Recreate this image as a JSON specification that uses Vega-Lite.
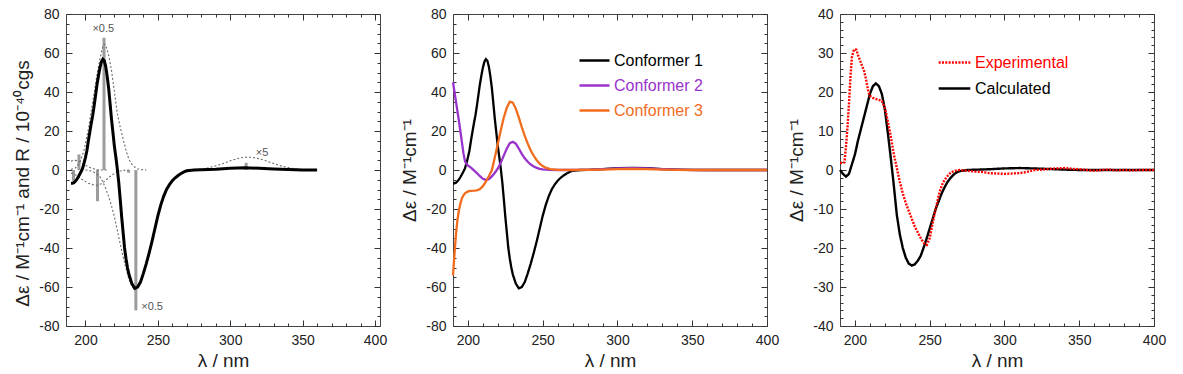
{
  "$schema": "https://vega.github.io/schema/vega-lite/v6.json",
  "background": "white",
  "padding": {"left": 13, "top": 6, "right": 5, "bottom": 5},
  "spacing": 73,
  "bounds": "flush",
  "resolve": {"scale": {"color": "independent", "strokeDash": "independent"}, "legend": {"color": "independent", "strokeDash": "independent"}},
  "config": {
    "view": {"stroke": "#444", "strokeWidth": 1},
    "font": "Liberation Sans",
    "axis": {"labelFont": "Liberation Sans", "titleFont": "Liberation Sans", "labelFontSize": 14, "titleFontSize": 19, "titleFontWeight": "normal", "labelColor": "#222", "titleColor": "#222", "domain": false, "tickColor": "#333", "tickWidth": 1, "grid": false, "labelFlush": false, "labelOverlap": false},
    "legend": {"labelFont": "Liberation Sans"},
    "text": {"font": "Liberation Sans"}
  },
  "datasets": {
    "conf": [
      {"s":"Conformer 1","x":190,"y":-6.8},{"s":"Conformer 1","x":191,"y":-6.8},{"s":"Conformer 1","x":192,"y":-6.5},{"s":"Conformer 1","x":193,"y":-5.8},{"s":"Conformer 1","x":194,"y":-4.8},{"s":"Conformer 1","x":195,"y":-3.6},{"s":"Conformer 1","x":196,"y":-2.2},{"s":"Conformer 1","x":197,"y":-0.8},{"s":"Conformer 1","x":198,"y":0.8},{"s":"Conformer 1","x":199,"y":3.5},{"s":"Conformer 1","x":200,"y":6.5},{"s":"Conformer 1","x":201,"y":10},{"s":"Conformer 1","x":202,"y":15},{"s":"Conformer 1","x":203,"y":19.5},{"s":"Conformer 1","x":204,"y":24},{"s":"Conformer 1","x":205,"y":28},{"s":"Conformer 1","x":206,"y":33},{"s":"Conformer 1","x":207,"y":38.5},{"s":"Conformer 1","x":208,"y":44},{"s":"Conformer 1","x":209,"y":48.5},{"s":"Conformer 1","x":210,"y":52.5},{"s":"Conformer 1","x":211,"y":55.5},{"s":"Conformer 1","x":212,"y":56.8},{"s":"Conformer 1","x":213,"y":56},{"s":"Conformer 1","x":214,"y":53},{"s":"Conformer 1","x":215,"y":48},{"s":"Conformer 1","x":216,"y":42},{"s":"Conformer 1","x":217,"y":34},{"s":"Conformer 1","x":218,"y":26},{"s":"Conformer 1","x":219,"y":19},{"s":"Conformer 1","x":220,"y":12},{"s":"Conformer 1","x":221,"y":6.5},{"s":"Conformer 1","x":222,"y":0.5},{"s":"Conformer 1","x":223,"y":-6.5},{"s":"Conformer 1","x":224,"y":-15},{"s":"Conformer 1","x":225,"y":-24},{"s":"Conformer 1","x":226,"y":-32},{"s":"Conformer 1","x":227,"y":-40},{"s":"Conformer 1","x":228,"y":-45.5},{"s":"Conformer 1","x":229,"y":-50},{"s":"Conformer 1","x":230,"y":-53.5},{"s":"Conformer 1","x":232,"y":-58.2},{"s":"Conformer 1","x":234,"y":-60.7},{"s":"Conformer 1","x":236,"y":-60},{"s":"Conformer 1","x":238,"y":-57.5},{"s":"Conformer 1","x":240,"y":-53},{"s":"Conformer 1","x":242,"y":-48},{"s":"Conformer 1","x":244,"y":-42.5},{"s":"Conformer 1","x":246,"y":-36.5},{"s":"Conformer 1","x":248,"y":-30},{"s":"Conformer 1","x":250,"y":-23.5},{"s":"Conformer 1","x":252,"y":-18},{"s":"Conformer 1","x":254,"y":-13.5},{"s":"Conformer 1","x":256,"y":-10},{"s":"Conformer 1","x":258,"y":-7.5},{"s":"Conformer 1","x":260,"y":-5.5},{"s":"Conformer 1","x":262,"y":-4},{"s":"Conformer 1","x":264,"y":-2.8},{"s":"Conformer 1","x":266,"y":-1.8},{"s":"Conformer 1","x":268,"y":-1},{"s":"Conformer 1","x":270,"y":-0.4},{"s":"Conformer 1","x":275,"y":0},{"s":"Conformer 1","x":280,"y":0.1},{"s":"Conformer 1","x":290,"y":0.4},{"s":"Conformer 1","x":300,"y":0.9},{"s":"Conformer 1","x":310,"y":1.1},{"s":"Conformer 1","x":320,"y":0.9},{"s":"Conformer 1","x":330,"y":0.5},{"s":"Conformer 1","x":340,"y":0.2},{"s":"Conformer 1","x":350,"y":0.05},{"s":"Conformer 1","x":360,"y":0},{"s":"Conformer 1","x":380,"y":0},{"s":"Conformer 1","x":400,"y":0},
      {"s":"Conformer 2","x":190,"y":45},{"s":"Conformer 2","x":191,"y":40},{"s":"Conformer 2","x":192,"y":35},{"s":"Conformer 2","x":193,"y":30},{"s":"Conformer 2","x":194,"y":25},{"s":"Conformer 2","x":195,"y":19.5},{"s":"Conformer 2","x":196,"y":14},{"s":"Conformer 2","x":197,"y":8.5},{"s":"Conformer 2","x":198,"y":4.5},{"s":"Conformer 2","x":199,"y":3},{"s":"Conformer 2","x":200,"y":2.3},{"s":"Conformer 2","x":202,"y":1.2},{"s":"Conformer 2","x":204,"y":-0.2},{"s":"Conformer 2","x":206,"y":-1.6},{"s":"Conformer 2","x":208,"y":-3.2},{"s":"Conformer 2","x":210,"y":-4.5},{"s":"Conformer 2","x":212,"y":-5.1},{"s":"Conformer 2","x":214,"y":-4.7},{"s":"Conformer 2","x":216,"y":-3.3},{"s":"Conformer 2","x":218,"y":-1.4},{"s":"Conformer 2","x":220,"y":0.8},{"s":"Conformer 2","x":222,"y":3.8},{"s":"Conformer 2","x":224,"y":7.5},{"s":"Conformer 2","x":226,"y":11},{"s":"Conformer 2","x":228,"y":13.8},{"s":"Conformer 2","x":230,"y":14.5},{"s":"Conformer 2","x":232,"y":13.5},{"s":"Conformer 2","x":234,"y":11},{"s":"Conformer 2","x":236,"y":8.3},{"s":"Conformer 2","x":238,"y":6},{"s":"Conformer 2","x":240,"y":4.2},{"s":"Conformer 2","x":242,"y":2.8},{"s":"Conformer 2","x":244,"y":1.8},{"s":"Conformer 2","x":246,"y":1.1},{"s":"Conformer 2","x":248,"y":0.6},{"s":"Conformer 2","x":250,"y":0.3},{"s":"Conformer 2","x":255,"y":0.05},{"s":"Conformer 2","x":260,"y":0},{"s":"Conformer 2","x":280,"y":0.1},{"s":"Conformer 2","x":290,"y":0.4},{"s":"Conformer 2","x":300,"y":0.8},{"s":"Conformer 2","x":310,"y":1},{"s":"Conformer 2","x":320,"y":0.8},{"s":"Conformer 2","x":330,"y":0.4},{"s":"Conformer 2","x":340,"y":0.15},{"s":"Conformer 2","x":350,"y":0},{"s":"Conformer 2","x":380,"y":0},{"s":"Conformer 2","x":400,"y":0},
      {"s":"Conformer 3","x":190,"y":-54},{"s":"Conformer 3","x":191,"y":-43},{"s":"Conformer 3","x":192,"y":-33},{"s":"Conformer 3","x":193,"y":-25.5},{"s":"Conformer 3","x":194,"y":-20.5},{"s":"Conformer 3","x":195,"y":-17},{"s":"Conformer 3","x":196,"y":-14.5},{"s":"Conformer 3","x":197,"y":-13},{"s":"Conformer 3","x":198,"y":-12},{"s":"Conformer 3","x":200,"y":-11},{"s":"Conformer 3","x":202,"y":-10.7},{"s":"Conformer 3","x":204,"y":-10.6},{"s":"Conformer 3","x":206,"y":-10.4},{"s":"Conformer 3","x":208,"y":-9.8},{"s":"Conformer 3","x":210,"y":-8.3},{"s":"Conformer 3","x":212,"y":-6},{"s":"Conformer 3","x":214,"y":-3.2},{"s":"Conformer 3","x":216,"y":0},{"s":"Conformer 3","x":218,"y":6.5},{"s":"Conformer 3","x":220,"y":13.5},{"s":"Conformer 3","x":222,"y":20.5},{"s":"Conformer 3","x":224,"y":27},{"s":"Conformer 3","x":226,"y":32},{"s":"Conformer 3","x":228,"y":35},{"s":"Conformer 3","x":230,"y":34.5},{"s":"Conformer 3","x":232,"y":31.5},{"s":"Conformer 3","x":234,"y":27},{"s":"Conformer 3","x":236,"y":22},{"s":"Conformer 3","x":238,"y":17.5},{"s":"Conformer 3","x":240,"y":13.5},{"s":"Conformer 3","x":242,"y":10},{"s":"Conformer 3","x":244,"y":7.3},{"s":"Conformer 3","x":246,"y":5},{"s":"Conformer 3","x":248,"y":3.2},{"s":"Conformer 3","x":250,"y":2},{"s":"Conformer 3","x":252,"y":1.2},{"s":"Conformer 3","x":255,"y":0.5},{"s":"Conformer 3","x":260,"y":0.1},{"s":"Conformer 3","x":270,"y":0},{"s":"Conformer 3","x":290,"y":0.2},{"s":"Conformer 3","x":300,"y":0.4},{"s":"Conformer 3","x":310,"y":0.6},{"s":"Conformer 3","x":320,"y":0.4},{"s":"Conformer 3","x":330,"y":0.2},{"s":"Conformer 3","x":340,"y":0.05},{"s":"Conformer 3","x":350,"y":0},{"s":"Conformer 3","x":380,"y":0},{"s":"Conformer 3","x":400,"y":0}
    ],
    "gauss": [
      {"g":"g1","x":190,"y":0.3},{"g":"g1","x":193,"y":1},{"g":"g1","x":196,"y":3.8},{"g":"g1","x":199,"y":10},{"g":"g1","x":202,"y":21},{"g":"g1","x":205,"y":35},{"g":"g1","x":208,"y":49},{"g":"g1","x":210,"y":57},{"g":"g1","x":212,"y":63.5},{"g":"g1","x":213,"y":64.5},{"g":"g1","x":214,"y":64},{"g":"g1","x":216,"y":59},{"g":"g1","x":218,"y":51},{"g":"g1","x":220,"y":40},{"g":"g1","x":222,"y":29},{"g":"g1","x":224,"y":22},{"g":"g1","x":226,"y":16},{"g":"g1","x":228,"y":10},{"g":"g1","x":230,"y":5.5},{"g":"g1","x":232,"y":3},{"g":"g1","x":234,"y":1.5},{"g":"g1","x":236,"y":0.6},{"g":"g1","x":238,"y":0.2},{"g":"g1","x":242,"y":0},
      {"g":"g2","x":200,"y":0},{"g":"g2","x":204,"y":-0.5},{"g":"g2","x":207,"y":-1.5},{"g":"g2","x":210,"y":-3.5},{"g":"g2","x":212,"y":-6},{"g":"g2","x":214,"y":-9.5},{"g":"g2","x":216,"y":-13.5},{"g":"g2","x":218,"y":-18.5},{"g":"g2","x":220,"y":-24},{"g":"g2","x":222,"y":-31},{"g":"g2","x":224,"y":-38},{"g":"g2","x":226,"y":-44.5},{"g":"g2","x":228,"y":-50.5},{"g":"g2","x":230,"y":-56},{"g":"g2","x":232,"y":-59.5},{"g":"g2","x":234,"y":-61.5},{"g":"g2","x":236,"y":-60.5},{"g":"g2","x":238,"y":-57.8},{"g":"g2","x":240,"y":-53.2},{"g":"g2","x":242,"y":-48.1},{"g":"g2","x":244,"y":-42.6},{"g":"g2","x":246,"y":-36.5},{"g":"g2","x":248,"y":-30},{"g":"g2","x":250,"y":-23.5},{"g":"g2","x":252,"y":-18},{"g":"g2","x":254,"y":-13.5},{"g":"g2","x":256,"y":-10},{"g":"g2","x":258,"y":-7.5},{"g":"g2","x":260,"y":-5.5},{"g":"g2","x":262,"y":-4},{"g":"g2","x":264,"y":-2.8},{"g":"g2","x":266,"y":-1.8},{"g":"g2","x":268,"y":-1},{"g":"g2","x":270,"y":-0.4},{"g":"g2","x":275,"y":0},
      {"g":"g3","x":190,"y":4.5},{"g":"g3","x":192,"y":5},{"g":"g3","x":194,"y":4.8},{"g":"g3","x":196,"y":4.2},{"g":"g3","x":198,"y":3.3},{"g":"g3","x":200,"y":2.4},{"g":"g3","x":202,"y":1.6},{"g":"g3","x":204,"y":1},{"g":"g3","x":206,"y":0.5},{"g":"g3","x":208,"y":0.2},{"g":"g3","x":210,"y":0},{"g":"g3","x":215,"y":0},
      {"g":"g4","x":190,"y":-1.5},{"g":"g4","x":193,"y":-2.5},{"g":"g4","x":196,"y":-4},{"g":"g4","x":199,"y":-5.5},{"g":"g4","x":202,"y":-6.8},{"g":"g4","x":205,"y":-7.5},{"g":"g4","x":208,"y":-7.8},{"g":"g4","x":211,"y":-7},{"g":"g4","x":214,"y":-5.3},{"g":"g4","x":217,"y":-3.3},{"g":"g4","x":220,"y":-1.7},{"g":"g4","x":223,"y":-0.7},{"g":"g4","x":226,"y":-0.2},{"g":"g4","x":230,"y":0},
      {"g":"g5","x":270,"y":0},{"g":"g5","x":275,"y":0.2},{"g":"g5","x":280,"y":0.5},{"g":"g5","x":285,"y":1.1},{"g":"g5","x":290,"y":2.1},{"g":"g5","x":295,"y":3.3},{"g":"g5","x":300,"y":4.7},{"g":"g5","x":305,"y":5.9},{"g":"g5","x":310,"y":6.6},{"g":"g5","x":315,"y":6.5},{"g":"g5","x":320,"y":5.8},{"g":"g5","x":325,"y":4.6},{"g":"g5","x":330,"y":3.3},{"g":"g5","x":335,"y":2.1},{"g":"g5","x":340,"y":1.2},{"g":"g5","x":345,"y":0.6},{"g":"g5","x":350,"y":0.2},{"g":"g5","x":355,"y":0}
    ],
    "sticks": [
      {"x":191.7,"r":-5.6},{"x":195.5,"r":8},{"x":208.3,"r":-16},{"x":212.8,"r":67.8},{"x":229.8,"r":-1.4},{"x":234.8,"r":-72},{"x":311,"r":3.7}
    ],
    "notes": [
      {"x":212.3,"y":72.2,"t":"×0.5"},{"x":246,"y":-70.3,"t":"×0.5"},{"x":322,"y":8.9,"t":"×5"}
    ],
    "cd": [
      {"s":"Calculated","x":190,"y":0},{"s":"Calculated","x":192,"y":-1},{"s":"Calculated","x":194,"y":-1.7},{"s":"Calculated","x":196,"y":-1},{"s":"Calculated","x":198,"y":1.5},{"s":"Calculated","x":200,"y":4},{"s":"Calculated","x":202,"y":7.5},{"s":"Calculated","x":204,"y":10.5},{"s":"Calculated","x":206,"y":13.5},{"s":"Calculated","x":208,"y":16.5},{"s":"Calculated","x":210,"y":19.5},{"s":"Calculated","x":212,"y":21.5},{"s":"Calculated","x":214,"y":22.2},{"s":"Calculated","x":216,"y":21.5},{"s":"Calculated","x":218,"y":19.5},{"s":"Calculated","x":220,"y":15.5},{"s":"Calculated","x":222,"y":9.5},{"s":"Calculated","x":224,"y":3},{"s":"Calculated","x":226,"y":-4},{"s":"Calculated","x":228,"y":-11.5},{"s":"Calculated","x":230,"y":-16.5},{"s":"Calculated","x":232,"y":-20},{"s":"Calculated","x":234,"y":-22.5},{"s":"Calculated","x":236,"y":-24},{"s":"Calculated","x":238,"y":-24.5},{"s":"Calculated","x":240,"y":-24.2},{"s":"Calculated","x":242,"y":-23.3},{"s":"Calculated","x":244,"y":-22},{"s":"Calculated","x":246,"y":-19.8},{"s":"Calculated","x":248,"y":-17.5},{"s":"Calculated","x":250,"y":-15},{"s":"Calculated","x":252,"y":-12.5},{"s":"Calculated","x":254,"y":-10},{"s":"Calculated","x":256,"y":-8},{"s":"Calculated","x":258,"y":-6},{"s":"Calculated","x":260,"y":-4.4},{"s":"Calculated","x":262,"y":-3},{"s":"Calculated","x":264,"y":-2},{"s":"Calculated","x":266,"y":-1.2},{"s":"Calculated","x":268,"y":-0.6},{"s":"Calculated","x":270,"y":-0.3},{"s":"Calculated","x":275,"y":0},{"s":"Calculated","x":290,"y":0.2},{"s":"Calculated","x":300,"y":0.4},{"s":"Calculated","x":310,"y":0.5},{"s":"Calculated","x":320,"y":0.4},{"s":"Calculated","x":330,"y":0.25},{"s":"Calculated","x":340,"y":0.1},{"s":"Calculated","x":350,"y":0},{"s":"Calculated","x":400,"y":0},
      {"s":"Experimental","x":190,"y":1.8},{"s":"Experimental","x":192,"y":1.8},{"s":"Experimental","x":193,"y":2},{"s":"Experimental","x":194,"y":6},{"s":"Experimental","x":195,"y":11},{"s":"Experimental","x":196,"y":17},{"s":"Experimental","x":197,"y":24},{"s":"Experimental","x":198,"y":29},{"s":"Experimental","x":199,"y":30.5},{"s":"Experimental","x":200,"y":31},{"s":"Experimental","x":201,"y":30.8},{"s":"Experimental","x":202,"y":29.5},{"s":"Experimental","x":203,"y":28.5},{"s":"Experimental","x":204,"y":27.5},{"s":"Experimental","x":205,"y":26.5},{"s":"Experimental","x":206,"y":25.5},{"s":"Experimental","x":207,"y":24},{"s":"Experimental","x":208,"y":22},{"s":"Experimental","x":209,"y":20},{"s":"Experimental","x":210,"y":19},{"s":"Experimental","x":212,"y":18.5},{"s":"Experimental","x":214,"y":18.2},{"s":"Experimental","x":216,"y":18},{"s":"Experimental","x":218,"y":17.7},{"s":"Experimental","x":220,"y":16},{"s":"Experimental","x":222,"y":12.5},{"s":"Experimental","x":224,"y":8.5},{"s":"Experimental","x":226,"y":4},{"s":"Experimental","x":228,"y":0.5},{"s":"Experimental","x":230,"y":-3},{"s":"Experimental","x":232,"y":-6},{"s":"Experimental","x":234,"y":-8.5},{"s":"Experimental","x":236,"y":-10.5},{"s":"Experimental","x":238,"y":-12.5},{"s":"Experimental","x":240,"y":-14.5},{"s":"Experimental","x":242,"y":-16},{"s":"Experimental","x":244,"y":-17.5},{"s":"Experimental","x":246,"y":-18.7},{"s":"Experimental","x":248,"y":-19.2},{"s":"Experimental","x":250,"y":-17.5},{"s":"Experimental","x":252,"y":-13.5},{"s":"Experimental","x":254,"y":-10},{"s":"Experimental","x":256,"y":-6.5},{"s":"Experimental","x":258,"y":-4},{"s":"Experimental","x":260,"y":-2.5},{"s":"Experimental","x":262,"y":-1.5},{"s":"Experimental","x":264,"y":-0.7},{"s":"Experimental","x":266,"y":-0.3},{"s":"Experimental","x":268,"y":-0.1},{"s":"Experimental","x":270,"y":0},{"s":"Experimental","x":275,"y":-0.2},{"s":"Experimental","x":280,"y":-0.4},{"s":"Experimental","x":285,"y":-0.5},{"s":"Experimental","x":290,"y":-0.8},{"s":"Experimental","x":295,"y":-0.9},{"s":"Experimental","x":300,"y":-1},{"s":"Experimental","x":305,"y":-0.9},{"s":"Experimental","x":310,"y":-0.8},{"s":"Experimental","x":315,"y":-0.5},{"s":"Experimental","x":320,"y":0},{"s":"Experimental","x":325,"y":0.1},{"s":"Experimental","x":330,"y":0.3},{"s":"Experimental","x":335,"y":0.4},{"s":"Experimental","x":340,"y":0.5},{"s":"Experimental","x":345,"y":0.3},{"s":"Experimental","x":350,"y":0.2},{"s":"Experimental","x":355,"y":0},{"s":"Experimental","x":360,"y":-0.2},{"s":"Experimental","x":365,"y":0},{"s":"Experimental","x":370,"y":0.1},{"s":"Experimental","x":375,"y":-0.1},{"s":"Experimental","x":380,"y":0},{"s":"Experimental","x":385,"y":-0.1},{"s":"Experimental","x":390,"y":0},{"s":"Experimental","x":400,"y":0}
    ]
  },
  "hconcat": [
    {
      "width": 314, "height": 312,
      "resolve": {"axis": {"x": "independent", "y": "independent"}},
      "layer": [
        {
          "data": {"name": "sticks"},
          "mark": {"type": "bar", "color": "#9c9c9c", "size": 3},
          "encoding": {
            "x": {"field": "x", "type": "quantitative", "scale": {"domain": [190, 400], "nice": false},
              "axis": {"orient": "bottom", "title": "λ / nm", "values": [200,250,300,350,400], "labelExpr": "datum.value + ''", "ticks": false, "labelPadding": 7, "titlePadding": 4}},
            "y": {"field": "r", "type": "quantitative", "scale": {"domain": [-80, 80], "nice": false},
              "axis": {"orient": "left", "title": "Δε / M⁻¹cm⁻¹ and R / 10⁻⁴⁰cgs", "titleY": 169, "values": [-80,-60,-40,-20,0,20,40,60,80], "labelExpr": "datum.value + ''", "ticks": false, "labelPadding": 7, "titlePadding": 6}},
            "y2": {"datum": 0}
          }
        },
        {
          "data": {"name": "gauss"},
          "mark": {"type": "line", "color": "#6a6a6a", "strokeWidth": 1.1, "strokeDash": [2, 2]},
          "encoding": {
            "x": {"field": "x", "type": "quantitative", "axis": null},
            "y": {"field": "y", "type": "quantitative", "axis": null},
            "detail": {"field": "g"}
          }
        },
        {
          "mark": {"type": "rule", "color": "#8a8a8a", "strokeWidth": 1.5},
          "encoding": {
            "y": {"datum": 0, "type": "quantitative",
              "axis": {"orient": "right", "offset": -314, "title": null, "labels": false, "values": [-80,-75,-70,-65,-60,-55,-50,-45,-40,-35,-30,-25,-20,-15,-10,-5,0,5,10,15,20,25,30,35,40,45,50,55,60,65,70,75,80], "tickSize": {"condition": {"test": "datum.value % 20 === 0", "value": 6}, "value": 3}}}
          }
        },
        {
          "data": {"name": "conf"},
          "transform": [{"filter": "datum.s === 'Conformer 1' && datum.x <= 360"}],
          "mark": {"type": "line", "color": "#000000", "strokeWidth": 3},
          "encoding": {
            "x": {"field": "x", "type": "quantitative",
              "axis": {"orient": "top", "offset": -312, "title": null, "labels": false, "values": [200,210,220,230,240,250,260,270,280,290,300,310,320,330,340,350,360,370,380,390,400], "tickSize": {"condition": {"test": "datum.value % 50 === 0", "value": 6}, "value": 3}}},
            "y": {"field": "y", "type": "quantitative",
              "axis": {"orient": "left", "offset": -314, "title": null, "labels": false, "values": [-80,-75,-70,-65,-60,-55,-50,-45,-40,-35,-30,-25,-20,-15,-10,-5,0,5,10,15,20,25,30,35,40,45,50,55,60,65,70,75,80], "tickSize": {"condition": {"test": "datum.value % 20 === 0", "value": 6}, "value": 3}}}
          }
        },
        {
          "data": {"name": "notes"},
          "mark": {"type": "text", "fontSize": 11, "color": "#555555", "align": "center", "baseline": "middle"},
          "encoding": {
            "x": {"field": "x", "type": "quantitative", "axis": null},
            "y": {"field": "y", "type": "quantitative", "axis": null},
            "text": {"field": "t"}
          }
        },
        {
          "mark": {"type": "text", "fontSize": 17, "color": "#222222", "align": "center", "baseline": "middle"},
          "encoding": {
            "x": {"datum": 388, "type": "quantitative",
              "axis": {"orient": "bottom", "offset": -312, "title": null, "labels": false, "values": [200,210,220,230,240,250,260,270,280,290,300,310,320,330,340,350,360,370,380,390,400], "tickSize": {"condition": {"test": "datum.value % 50 === 0", "value": 6}, "value": 3}}},
            "y": {"datum": 70.5, "type": "quantitative", "axis": null},
            "text": {"value": "(a)"}
          }
        }
      ]
    },
    {
      "width": 314, "height": 312,
      "resolve": {"axis": {"x": "independent", "y": "independent"}},
      "layer": [
        {
          "mark": {"type": "rule", "color": "#8a8a8a", "strokeWidth": 1.8},
          "encoding": {
            "y": {"datum": 0, "type": "quantitative", "scale": {"domain": [-80, 80], "nice": false},
              "axis": {"orient": "right", "offset": -314, "title": null, "labels": false, "values": [-80,-75,-70,-65,-60,-55,-50,-45,-40,-35,-30,-25,-20,-15,-10,-5,0,5,10,15,20,25,30,35,40,45,50,55,60,65,70,75,80], "tickSize": {"condition": {"test": "datum.value % 20 === 0", "value": 6}, "value": 3}}}
          }
        },
        {
          "data": {"name": "conf"},
          "mark": {"type": "line", "strokeWidth": 2.3},
          "encoding": {
            "x": {"field": "x", "type": "quantitative", "scale": {"domain": [190, 400], "nice": false},
              "axis": {"orient": "bottom", "title": "λ / nm", "values": [200,250,300,350,400], "labelExpr": "datum.value + ''", "ticks": false, "labelPadding": 7, "titlePadding": 4}},
            "y": {"field": "y", "type": "quantitative",
              "axis": {"orient": "left", "title": "Δε / M⁻¹cm⁻¹", "values": [-80,-60,-40,-20,0,20,40,60,80], "labelExpr": "datum.value + ''", "ticks": false, "labelPadding": 7, "titlePadding": 6}},
            "color": {"field": "s", "type": "nominal",
              "scale": {"domain": ["Conformer 1", "Conformer 2", "Conformer 3"], "range": ["#000000", "#9933cc", "#f26c1e"]},
              "legend": {"orient": "none", "legendX": 125, "legendY": 30, "title": null, "symbolType": "stroke", "symbolSize": 900, "symbolStrokeWidth": 2.5, "labelFontSize": 16, "labelOffset": 3, "rowPadding": -1.5, "padding": 0,
                "labelColor": {"expr": "datum.value === 'Conformer 2' ? '#9933cc' : (datum.value === 'Conformer 3' ? '#f26c1e' : '#000000')"}}}
          }
        },
        {
          "mark": {"type": "text", "fontSize": 17, "color": "#222222", "align": "center", "baseline": "middle"},
          "encoding": {
            "x": {"datum": 388, "type": "quantitative",
              "axis": {"orient": "bottom", "offset": -312, "title": null, "labels": false, "values": [200,210,220,230,240,250,260,270,280,290,300,310,320,330,340,350,360,370,380,390,400], "tickSize": {"condition": {"test": "datum.value % 50 === 0", "value": 6}, "value": 3}}},
            "y": {"datum": 71.4, "type": "quantitative",
              "axis": {"orient": "left", "offset": -314, "title": null, "labels": false, "values": [-80,-75,-70,-65,-60,-55,-50,-45,-40,-35,-30,-25,-20,-15,-10,-5,0,5,10,15,20,25,30,35,40,45,50,55,60,65,70,75,80], "tickSize": {"condition": {"test": "datum.value % 20 === 0", "value": 6}, "value": 3}}},
            "text": {"value": "(b)"}
          }
        },
        {
          "mark": {"type": "text", "opacity": 0},
          "encoding": {
            "x": {"datum": 300, "type": "quantitative",
              "axis": {"orient": "top", "offset": -312, "title": null, "labels": false, "values": [200,210,220,230,240,250,260,270,280,290,300,310,320,330,340,350,360,370,380,390,400], "tickSize": {"condition": {"test": "datum.value % 50 === 0", "value": 6}, "value": 3}}},
            "y": {"datum": 0, "type": "quantitative", "axis": null},
            "text": {"value": ""}
          }
        }
      ]
    },
    {
      "width": 314, "height": 312,
      "resolve": {"axis": {"x": "independent", "y": "independent"}},
      "layer": [
        {
          "mark": {"type": "rule", "color": "#8a8a8a", "strokeWidth": 1.8},
          "encoding": {
            "y": {"datum": 0, "type": "quantitative", "scale": {"domain": [-40, 40], "nice": false},
              "axis": {"orient": "right", "offset": -314, "title": null, "labels": false, "values": [-40,-38,-36,-34,-32,-30,-28,-26,-24,-22,-20,-18,-16,-14,-12,-10,-8,-6,-4,-2,0,2,4,6,8,10,12,14,16,18,20,22,24,26,28,30,32,34,36,38,40], "tickSize": {"condition": {"test": "datum.value % 10 === 0", "value": 6}, "value": 3}}}
          }
        },
        {
          "data": {"name": "cd"},
          "mark": {"type": "line", "strokeWidth": 2.4},
          "encoding": {
            "x": {"field": "x", "type": "quantitative", "scale": {"domain": [190, 400], "nice": false},
              "axis": {"orient": "bottom", "title": "λ / nm", "values": [200,250,300,350,400], "labelExpr": "datum.value + ''", "ticks": false, "labelPadding": 7, "titlePadding": 4}},
            "y": {"field": "y", "type": "quantitative",
              "axis": {"orient": "left", "title": "Δε / M⁻¹cm⁻¹", "values": [-40,-30,-20,-10,0,10,20,30,40], "labelExpr": "datum.value + ''", "ticks": false, "labelPadding": 7, "titlePadding": 6}},
            "color": {"field": "s", "type": "nominal",
              "scale": {"domain": ["Experimental", "Calculated"], "range": ["#ff0000", "#000000"]},
              "legend": {"orient": "none", "legendX": 97, "legendY": 31, "title": null, "symbolType": "stroke", "symbolSize": 1000, "symbolStrokeWidth": 2.5, "labelFontSize": 16, "labelOffset": 3, "rowPadding": -2, "padding": 0,
                "labelColor": {"expr": "datum.value === 'Experimental' ? '#ff0000' : '#000000'"}}},
            "strokeDash": {"field": "s", "type": "nominal",
              "scale": {"domain": ["Experimental", "Calculated"], "range": [[2, 1.3], [1, 0]]},
              "legend": {"orient": "none", "legendX": 97, "legendY": 31, "title": null, "symbolType": "stroke", "symbolSize": 1000, "symbolStrokeWidth": 2.5, "labelFontSize": 16, "labelOffset": 3, "rowPadding": -2, "padding": 0,
                "labelColor": {"expr": "datum.value === 'Experimental' ? '#ff0000' : '#000000'"}}}
          }
        },
        {
          "mark": {"type": "text", "fontSize": 17, "color": "#222222", "align": "center", "baseline": "middle"},
          "encoding": {
            "x": {"datum": 387.5, "type": "quantitative",
              "axis": {"orient": "bottom", "offset": -312, "title": null, "labels": false, "values": [200,210,220,230,240,250,260,270,280,290,300,310,320,330,340,350,360,370,380,390,400], "tickSize": {"condition": {"test": "datum.value % 50 === 0", "value": 6}, "value": 3}}},
            "y": {"datum": 35.5, "type": "quantitative",
              "axis": {"orient": "left", "offset": -314, "title": null, "labels": false, "values": [-40,-38,-36,-34,-32,-30,-28,-26,-24,-22,-20,-18,-16,-14,-12,-10,-8,-6,-4,-2,0,2,4,6,8,10,12,14,16,18,20,22,24,26,28,30,32,34,36,38,40], "tickSize": {"condition": {"test": "datum.value % 10 === 0", "value": 6}, "value": 3}}},
            "text": {"value": "(c)"}
          }
        },
        {
          "mark": {"type": "text", "opacity": 0},
          "encoding": {
            "x": {"datum": 300, "type": "quantitative",
              "axis": {"orient": "top", "offset": -312, "title": null, "labels": false, "values": [200,210,220,230,240,250,260,270,280,290,300,310,320,330,340,350,360,370,380,390,400], "tickSize": {"condition": {"test": "datum.value % 50 === 0", "value": 6}, "value": 3}}},
            "y": {"datum": 0, "type": "quantitative", "axis": null},
            "text": {"value": ""}
          }
        }
      ]
    }
  ]
}
